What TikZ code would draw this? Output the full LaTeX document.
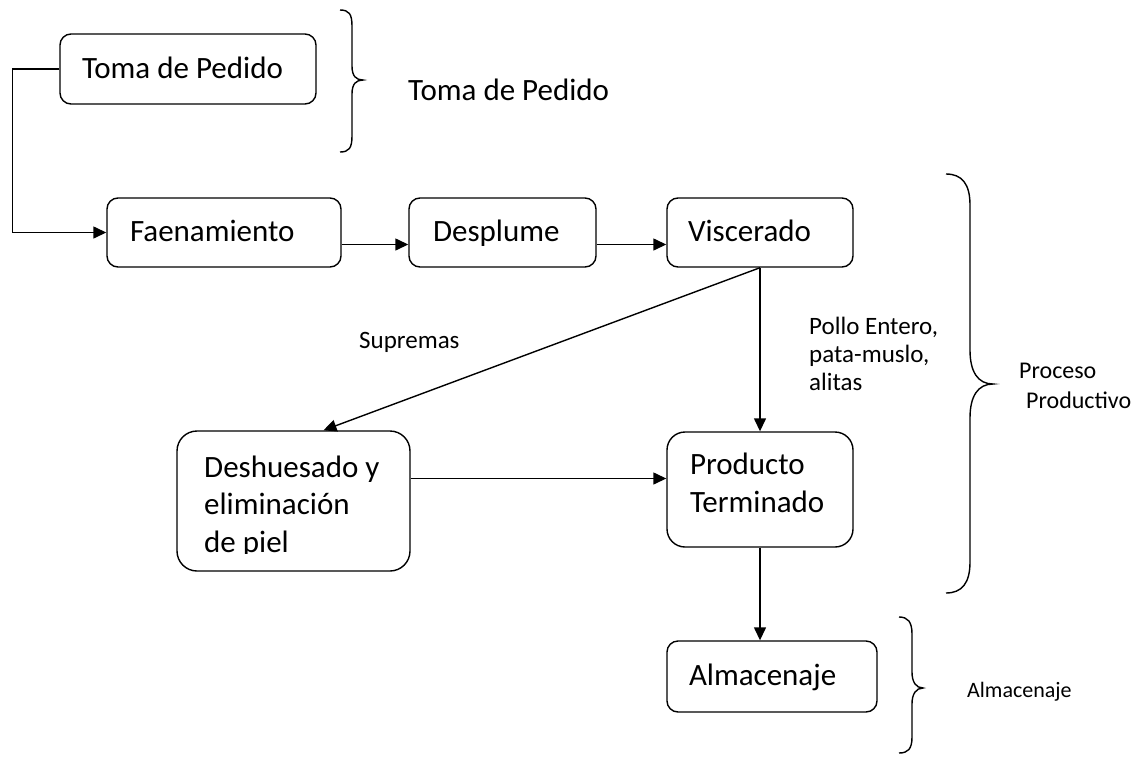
\documentclass[tikz,border=0pt]{standalone}
\usepackage{fontspec}
\setmainfont{Carlito}
\usetikzlibrary{arrows.meta}
\tikzset{
  stepbox/.style={draw, line width=1.4pt, rounded corners=11pt, inner ysep=0pt, align=flush left,
    font=\fontsize{31}{37.5}\selectfont},
  oneline/.style={text height=23pt, text depth=5pt},
  conn/.style={line width=1.4pt, -{Triangle[length=13pt,width=12pt]}},
  wbrace/.style={line width=1.4pt},
  lbl/.style={inner sep=0pt, anchor=base west, align=flush left},
}
\begin{document}
\begin{tikzpicture}[x=1pt,y=-1pt]
\useasboundingbox (0,0) rectangle (1144,756);

% boxes
\node[stepbox, oneline, minimum width=256pt, minimum height=70pt, inner xsep=22pt, text width=212pt] (toma) at (188,69) {Toma de Pedido};
\node[stepbox, oneline, minimum width=234pt, minimum height=69pt, inner xsep=23pt, text width=188pt] (faen) at (224,232.5) {Faenamiento};
\node[stepbox, oneline, minimum width=187pt, minimum height=69pt, inner xsep=24pt, text width=139pt] (desp) at (502.5,232.5) {Desplume};
\node[stepbox, oneline, minimum width=186pt, minimum height=69pt, inner xsep=21pt, text width=144pt] (visc) at (760,232.5) {Viscerado};
\node[stepbox, rounded corners=20pt, minimum width=233pt, minimum height=140pt, inner xsep=0pt, text width=233pt] (desh) at (293.5,501) {};
\begin{scope}
  \clip (177,431) rectangle (410,553);
  \node[lbl, font=\fontsize{31}{37.5}\selectfont] (deshtxt) at (204,552) {Deshuesado y\\eliminación\\de piel};
\end{scope}
\node[stepbox, rounded corners=18pt, text height=22pt, text depth=52pt, minimum width=186pt, minimum height=115pt, inner xsep=23pt, text width=140pt] (prod) at (760,489.5) {Producto\\Terminado};
\node[stepbox, oneline, minimum width=210pt, minimum height=71pt, inner xsep=22pt, text width=166pt] (alm) at (772,676.5) {Almacenaje};

% connectors
\draw[conn] (toma.west) -- ++(-47,0) |- (faen.west);
\draw[conn] ([yshift=-12pt]faen.east) -- ([yshift=-12pt]desp.west);
\draw[conn] ([yshift=-12pt]desp.east) -- ([yshift=-12pt]visc.west);
\draw[conn] (visc.south) -- (prod.north);
\draw[conn] (visc.south) -- ([xshift=30pt]desh.north);
\coordinate (pin) at ([yshift=11pt]prod.west);
\draw[conn] (desh.east |- pin) -- (pin);
\draw[conn] (prod.south) -- (prod.south |- alm.north);

% labels
\node[lbl, font=\fontsize{25}{28}\selectfont] (supr) at (359,348) {Supremas};
\node[lbl, font=\fontsize{25}{28}\selectfont] (pollo) at (809,390) {Pollo Entero,\\pata-muslo,\\alitas};

% braces
\draw[wbrace] (340,10) .. controls (349,10) and (352,14) .. (352,26) -- (352,66)
  .. controls (352,76) and (356,80) .. (363,80) .. controls (356,80) and (352,84) .. (352,94)
  -- (352,136) .. controls (352,148) and (349,152) .. (340,152);
\node[lbl, font=\fontsize{31}{37}\selectfont] (ltoma) at (408,100) {Toma de Pedido};

\draw[wbrace] (946,174) .. controls (962,174) and (970,184) .. (970,205) -- (970,350)
  .. controls (970,372) and (978,384) .. (993,384) .. controls (978,384) and (970,396) .. (970,418)
  -- (970,562) .. controls (970,583) and (962,593) .. (946,593);
\node[lbl, font=\fontsize{24}{30}\selectfont] (lproc) at (1019,408) {Proceso\\\hspace*{7pt}Productivo};

\draw[wbrace] (899,617) .. controls (908,617) and (912,622) .. (912,634) -- (912,672)
  .. controls (912,682) and (916,688) .. (923,688) .. controls (916,688) and (912,694) .. (912,704)
  -- (912,737) .. controls (912,749) and (908,753) .. (899,753);
\node[lbl, font=\fontsize{22}{26}\selectfont] (lalm) at (967,697) {Almacenaje};
\end{tikzpicture}
\end{document}
